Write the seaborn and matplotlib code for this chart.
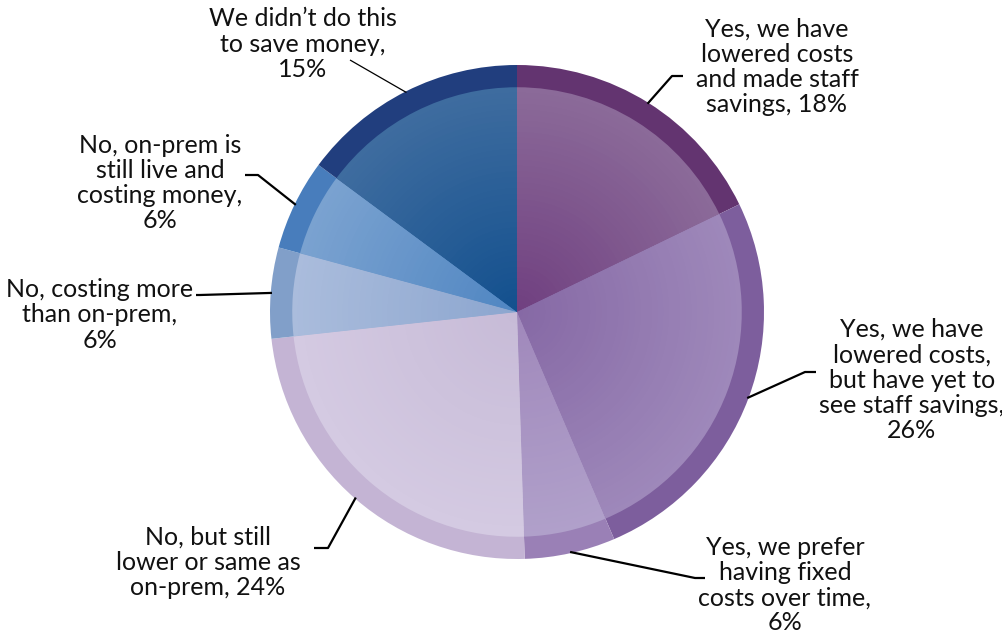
import numpy as np
import matplotlib
matplotlib.use("Agg")
import matplotlib.pyplot as plt
import seaborn as sns

# Survey answers, clockwise from 12 o'clock
labels = [
    "Yes, we have\nlowered costs\nand made staff\nsavings, 18%",
    "Yes, we have\nlowered costs,\nbut have yet to\nsee staff savings,\n26%",
    "Yes, we prefer\nhaving fixed\ncosts over time,\n6%",
    "No, but still\nlower or same as\non-prem, 24%",
    "No, costing more\nthan on-prem,\n6%",
    "No, on-prem is\nstill live and\ncosting money,\n6%",
    "We didn\u2019t do this\nto save money,\n15%",
]
values = [18, 26, 6, 24, 6, 6, 15]

# Outer band colour, inner colour near centre, inner colour near rim
ring_colors = ["#633470", "#7D5E9D", "#9A80B6", "#C4B4D4", "#819FC9", "#487DBC", "#213E7E"]
center_colors = ["#704080", "#8669A5", "#A088BB", "#C7BBD7", "#8CA6CF", "#5086C2", "#13508E"]
rim_colors = ["#8B6A99", "#9E88BA", "#B0A0CA", "#D4CAE2", "#AABCDC", "#7AA2D0", "#3E6C9F"]

# Label anchor (text centre) and elbow of each leader line, in figure pixels
label_pos = [(777, 67), (912, 380), (785, 585), (208, 562), (100, 315), (160, 183), (303, 44)]
elbow_pos = [(672, 76), (805, 372), (695, 578), (328, 548), (200, 295), (258, 175), (350, 60)]
tail_pos = [(683, 76), (816, 372), (705, 578), (314, 548), (196, 295), (245, 175), (350, 60)]
line_widths = [1.6, 1.6, 1.6, 1.6, 1.6, 1.6, 0.9]

W, H = 1003, 638
CX, CY, R = 517, 312, 247


def to_data(p):
    return ((p[0] - CX) / R, (CY - p[1]) / R)


sns.set_theme(style="white")
plt.rcParams["font.family"] = ["Lato", "DejaVu Sans"]

fig = plt.figure(figsize=(W / 100, H / 100), dpi=100)
ax = fig.add_axes([0, 0, 1, 1])

# Outer band
wedges, _ = ax.pie(values, colors=ring_colors, startangle=90, counterclock=False,
                   radius=1.0, wedgeprops=dict(linewidth=0))

# Inner disc with a radial shading: lighter towards the rim
inner_r = 0.91
n_steps = 40
shades = [sns.blend_palette([c, r], n_steps) for c, r in zip(center_colors, rim_colors)]
for k in range(n_steps - 1, -1, -1):
    rad = inner_r * (k + 1) / n_steps
    ax.pie(values, colors=[s[k] for s in shades], startangle=90, counterclock=False,
           radius=rad, wedgeprops=dict(linewidth=0))

# Labels with leader lines from the mid-angle of each wedge
for w, lab, lp, ep, tp, lw in zip(wedges, labels, label_pos, elbow_pos, tail_pos, line_widths):
    mid = np.deg2rad((w.theta1 + w.theta2) / 2)
    start = (np.cos(mid) * 0.995, np.sin(mid) * 0.995)
    ex, ey = to_data(ep)
    tx, ty = to_data(tp)
    ax.plot([start[0], ex, tx], [start[1], ey, ty], color="black", lw=lw,
            solid_capstyle="butt", zorder=5)
    x, y = to_data(lp)
    ax.text(x, y, lab, ha="center", va="center", fontsize=18, color="#111111",
            linespacing=1.12, zorder=6)

ax.set_aspect("auto")
ax.set_xlim(-CX / R, (W - CX) / R)
ax.set_ylim(-(H - CY) / R, CY / R)
ax.axis("off")
fig.savefig("out.png", dpi=100, facecolor="white")
